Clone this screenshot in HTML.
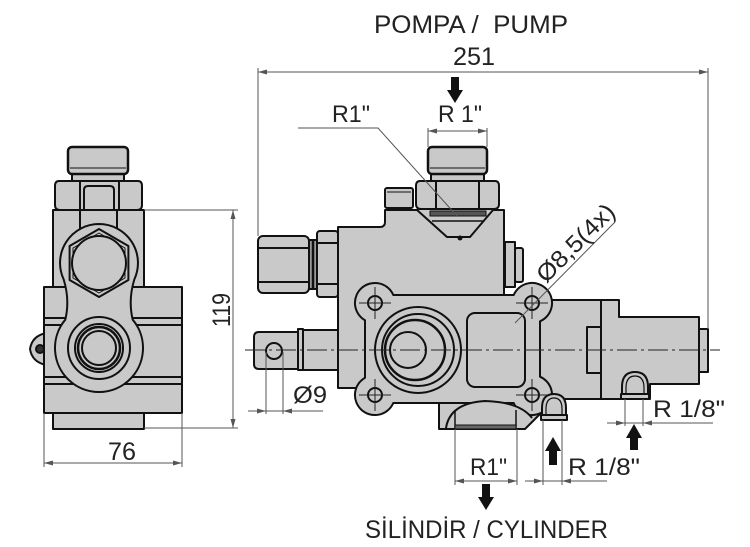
<!DOCTYPE html>
<html><head><meta charset="utf-8"><style>
html,body{margin:0;padding:0;background:#fff;}
svg{display:block;}
text{font-family:"Liberation Sans",sans-serif;fill:#222;}
</style></head><body>
<svg width="750" height="547" viewBox="0 0 750 547" xmlns="http://www.w3.org/2000/svg">
<rect width="750" height="547" fill="#fff"/>

<!-- ================= LEFT VIEW ================= -->
<g fill="#c9c9c9" stroke="#111" stroke-width="2" stroke-linejoin="round">
  <rect x="72" y="172" width="52" height="10"/>
  <rect x="68" y="147" width="60" height="27" rx="4" stroke-width="2.5"/>
  <line x1="70" y1="168" x2="126" y2="168" stroke-width="1"/>
  <path d="M59,181 H138 Q142,181 142,186 V205 Q142,210 137,210 H60 Q55,210 55,205 V186 Q55,181 59,181Z"/>
  <line x1="80" y1="182" x2="80" y2="210"/>
  <line x1="119" y1="182" x2="119" y2="210"/>
  <path d="M84,210 V190 Q84,186 88,186 H110 Q114,186 114,190 V210"/>
  <path d="M46,333 Q32,336 30,349 Q32,362 46,365 Z"/>
  <circle cx="40" cy="349" r="4" fill="#333"/>
  <rect x="53" y="210" width="91" height="77"/>
  <line x1="80" y1="210" x2="80" y2="240"/>
  <line x1="117" y1="210" x2="117" y2="240"/>
  <rect x="53" y="413" width="91" height="16"/>
  <rect x="44" y="287" width="138" height="126"/>
  <line x1="44" y1="318" x2="182" y2="318"/>
  <line x1="44" y1="325" x2="182" y2="325"/>
  <line x1="44" y1="377" x2="182" y2="377"/>
  <line x1="44" y1="384" x2="182" y2="384"/>
  <!-- lens -->
  <path d="M99,224 A39 39 0 0 1 134.3,279.5 Q128,300 132.7,319.7 A44 44 0 1 1 65.3,319.7 Q70,300 63.7,279.5 A39 39 0 0 1 99,224 Z"/>
  <polygon points="99,229 128.4,246 128.4,280 99,297 69.6,280 69.6,246"/>
  <polygon points="99,233 125,248 125,278 99,293 73,278 73,248" stroke-width="1"/>
  <circle cx="99" cy="263" r="27"/>
  <circle cx="99" cy="348" r="31"/>
  <circle cx="99" cy="348" r="24"/>
  <circle cx="99" cy="348" r="21" stroke-width="2.5"/>
  <circle cx="99" cy="348" r="17"/>
</g>

<!-- left view dims -->
<g stroke="#555" stroke-width="1" fill="none">
  <line x1="144" y1="210" x2="238" y2="210"/>
  <line x1="144" y1="428" x2="238" y2="428"/>
  <line x1="233" y1="210" x2="233" y2="428"/>
  <line x1="44" y1="413" x2="44" y2="467"/>
  <line x1="182" y1="413" x2="182" y2="467"/>
  <line x1="44" y1="463" x2="182" y2="463"/>
</g>
<g fill="#555">
  <polygon points="233,210 230.5,219 235.5,219"/>
  <polygon points="233,428 230.5,419 235.5,419"/>
  <polygon points="44,463 53,460.5 53,465.5"/>
  <polygon points="182,463 173,460.5 173,465.5"/>
</g>
<text x="0" y="0" font-size="25" transform="translate(230,327) rotate(-90)" textLength="34" lengthAdjust="spacingAndGlyphs">119</text>
<text x="108" y="460" font-size="25" textLength="28" lengthAdjust="spacingAndGlyphs">76</text>

<!-- ================= RIGHT VIEW ================= -->
<g fill="#c9c9c9" stroke="#111" stroke-width="2" stroke-linejoin="round">
  <!-- left fitting -->
  <rect x="258" y="236" width="51" height="57" rx="5"/>
  <line x1="258" y1="248" x2="309" y2="248"/>
  <line x1="258" y1="282" x2="309" y2="282"/>
  <rect x="309" y="240" width="8" height="49" fill="#9a9a9a"/>
  <line x1="313" y1="240" x2="313" y2="289" stroke-width="2.5"/>
  <rect x="317" y="231" width="21" height="66" rx="3"/>
  <line x1="317" y1="243" x2="338" y2="243"/>
  <line x1="317" y1="284" x2="338" y2="284"/>
  <!-- spool -->
  <path d="M259,332 H300 V369 H259 Q254,369 254,364 V337 Q254,332 259,332Z"/>
  <rect x="302" y="330" width="36" height="40"/>
  <rect x="298" y="329" width="5" height="41"/>
  <circle cx="274" cy="351" r="8"/>
  <!-- right block -->
  <path d="M525,300 H619 V317 H699 V384 H650 V399 H525 Z"/>
  <line x1="601" y1="300" x2="601" y2="399"/>
  <rect x="587" y="327" width="14" height="46"/>
  <rect x="699" y="329" width="9" height="43"/>
  <!-- dome 1 -->
  <path d="M622,394 V387 Q622,372 635,372 Q648,372 648,387 V394 Z"/>
  <path d="M626,394 V388 Q626,376 635,376 Q644,376 644,388 V394" fill="none" stroke-width="1.2"/>
  <rect x="621" y="394" width="28" height="5"/>
  <!-- main body -->
  <path d="M338,227 H380 Q385,227 385,222 V210 H504 V388 H338 Z"/>
  <rect x="385" y="188" width="28" height="20" rx="2"/>
  <line x1="387" y1="192" x2="411" y2="192" stroke-width="1"/>
  <!-- right plug -->
  <rect x="505" y="242" width="10" height="45"/>
  <rect x="515" y="248" width="8" height="34" rx="2"/>
  <!-- cone under nut -->
  <path d="M417,210 L447,237 L470,237 L493,210" fill="#c9c9c9"/>
  <rect x="430" y="211" width="56" height="5" fill="#555" stroke-width="1"/>
  <line x1="432" y1="221" x2="484" y2="221" stroke-width="1.5"/>
  <circle cx="460" cy="238" r="1.5" fill="#111"/>
  <!-- bottom boss -->
  <path d="M439,395 V429 H525 L540,414 V395 Z"/>
  <!-- flange -->
  <path d="M393.3,295 H513.7 A20 20 0 1 1 540,321.3 V376.7 A20 20 0 1 1 513.7,403 H393.3 A20 20 0 1 1 365,377.7 V320.3 A20 20 0 1 1 393.3,295 Z"/>
  <!-- boss dome on top -->
  <path d="M446,428 Q450,403 485,401 Q520,402 532,418" fill="#c9c9c9"/>
  <line x1="455" y1="410" x2="455" y2="429" stroke-width="1.5"/>
  <line x1="516" y1="410" x2="516" y2="429" stroke-width="1.5"/>
  <rect x="455" y="425" width="61" height="4" fill="#666" stroke-width="1"/>
  <!-- dome 2 -->
  <path d="M542,415 V408 Q542,394 554,394 Q566,394 566,408 V415 Z"/>
  <path d="M546,415 V409 Q546,398 554,398 Q562,398 562,409 V415" fill="none" stroke-width="1.2"/>
  <rect x="541" y="415" width="26" height="5"/>
  <!-- ports -->
  <circle cx="418" cy="350" r="43"/>
  <circle cx="418" cy="350" r="36"/>
  <circle cx="415" cy="350" r="30" stroke-width="2.5"/>
  <circle cx="408" cy="350" r="18"/>
  <rect x="467" y="313" width="58" height="74" rx="8"/>
  <!-- holes -->
  <circle cx="375" cy="303" r="7"/>
  <circle cx="532" cy="303" r="7"/>
  <circle cx="375" cy="395" r="7"/>
  <circle cx="532" cy="395" r="7"/>
  <!-- top cap & nut -->
  <rect x="431" y="172" width="53" height="10"/>
  <rect x="428" y="147" width="59" height="27" rx="4" stroke-width="2.5"/>
  <line x1="430" y1="168" x2="485" y2="168" stroke-width="1"/>
  <path d="M420,181 H495 Q499,181 499,186 V204 Q499,209 494,209 H421 Q416,209 416,204 V186 Q416,181 420,181Z"/>
  <line x1="436" y1="182" x2="436" y2="209"/>
  <line x1="479" y1="182" x2="479" y2="209"/>
</g>

<!-- crosshairs -->
<g stroke="#222" stroke-width="1">
  <line x1="359" y1="303" x2="391" y2="303"/><line x1="375" y1="287" x2="375" y2="319"/>
  <line x1="516" y1="303" x2="548" y2="303"/><line x1="532" y1="287" x2="532" y2="319"/>
  <line x1="359" y1="395" x2="391" y2="395"/><line x1="375" y1="379" x2="375" y2="411"/>
  <line x1="516" y1="395" x2="548" y2="395"/><line x1="532" y1="379" x2="532" y2="411"/>
</g>
<!-- centerline -->
<line x1="245" y1="350" x2="720" y2="350" stroke="#222" stroke-width="1" stroke-dasharray="20,4,3,4"/>

<!-- right view dims -->
<g stroke="#555" stroke-width="1" fill="none">
  <line x1="258" y1="72" x2="708" y2="72"/>
  <line x1="258" y1="68" x2="258" y2="236"/>
  <line x1="708" y1="68" x2="708" y2="329"/>
  <line x1="428" y1="131" x2="487" y2="131"/>
  <line x1="428" y1="128" x2="428" y2="147"/>
  <line x1="487" y1="128" x2="487" y2="147"/>
  <polyline points="298,128 378,128 457,216"/>
  <line x1="266" y1="352" x2="266" y2="414"/>
  <line x1="283" y1="352" x2="283" y2="414"/>
  <line x1="248" y1="411" x2="323" y2="411"/>
  <line x1="455" y1="429" x2="455" y2="485"/>
  <line x1="517" y1="429" x2="517" y2="485"/>
  <line x1="455" y1="481" x2="517" y2="481"/>
  <line x1="543" y1="420" x2="543" y2="485"/>
  <line x1="562" y1="420" x2="562" y2="485"/>
  <line x1="525" y1="481" x2="607" y2="481"/>
  <line x1="625" y1="399" x2="625" y2="426"/>
  <line x1="643" y1="399" x2="643" y2="426"/>
  <line x1="607" y1="423" x2="713" y2="423"/>
  <line x1="515" y1="323" x2="615" y2="222"/>
</g>
<g fill="#555">
  <polygon points="258,72 267,69.5 267,74.5"/>
  <polygon points="708,72 699,69.5 699,74.5"/>
  <polygon points="428,131 437,128.5 437,133.5"/>
  <polygon points="487,131 478,128.5 478,133.5"/>
  <polygon points="266,411 257,408.5 257,413.5"/>
  <polygon points="283,411 292,408.5 292,413.5"/>
  <polygon points="455,481 464,478.5 464,483.5"/>
  <polygon points="517,481 508,478.5 508,483.5"/>
  <polygon points="543,481 534,478.5 534,483.5"/>
  <polygon points="562,481 571,478.5 571,483.5"/>
  <polygon points="625,423 616,420.5 616,425.5"/>
  <polygon points="643,423 652,420.5 652,425.5"/>
</g>
<!-- big arrows -->
<g fill="#111">
  <rect x="451" y="77" width="8" height="14"/>
  <polygon points="447,90 463,90 455,103"/>
  <rect x="482" y="484" width="8" height="14"/>
  <polygon points="478,497 494,497 486,510"/>
  <polygon points="545,451 561,451 553,437"/>
  <rect x="549" y="450" width="8" height="15"/>
  <polygon points="626,438 642,438 634,424"/>
  <rect x="630" y="437" width="8" height="13"/>
</g>

<!-- texts -->
<text x="374" y="33" font-size="25" style="white-space:pre" textLength="194" lengthAdjust="spacingAndGlyphs">POMPA /  PUMP</text>
<text x="453" y="65" font-size="25" textLength="42" lengthAdjust="spacingAndGlyphs">251</text>
<text x="332" y="122" font-size="24" textLength="38" lengthAdjust="spacingAndGlyphs">R1"</text>
<text x="438" y="122" font-size="24" style="white-space:pre" textLength="44" lengthAdjust="spacingAndGlyphs">R 1"</text>
<text x="293" y="403" font-size="24" textLength="34" lengthAdjust="spacingAndGlyphs">Ø9</text>
<text x="0" y="0" font-size="24" transform="translate(546,284) rotate(-45)" textLength="100" lengthAdjust="spacingAndGlyphs">Ø8,5(4x)</text>
<text x="470" y="475" font-size="24" textLength="37" lengthAdjust="spacingAndGlyphs">R1"</text>
<text x="568" y="475" font-size="24" style="white-space:pre" textLength="72" lengthAdjust="spacingAndGlyphs">R 1/8"</text>
<text x="653" y="417" font-size="24" style="white-space:pre" textLength="72" lengthAdjust="spacingAndGlyphs">R 1/8"</text>
<text x="365" y="538" font-size="25" style="white-space:pre" textLength="243" lengthAdjust="spacingAndGlyphs">SİLİNDİR / CYLINDER</text>
</svg>
</body></html>
